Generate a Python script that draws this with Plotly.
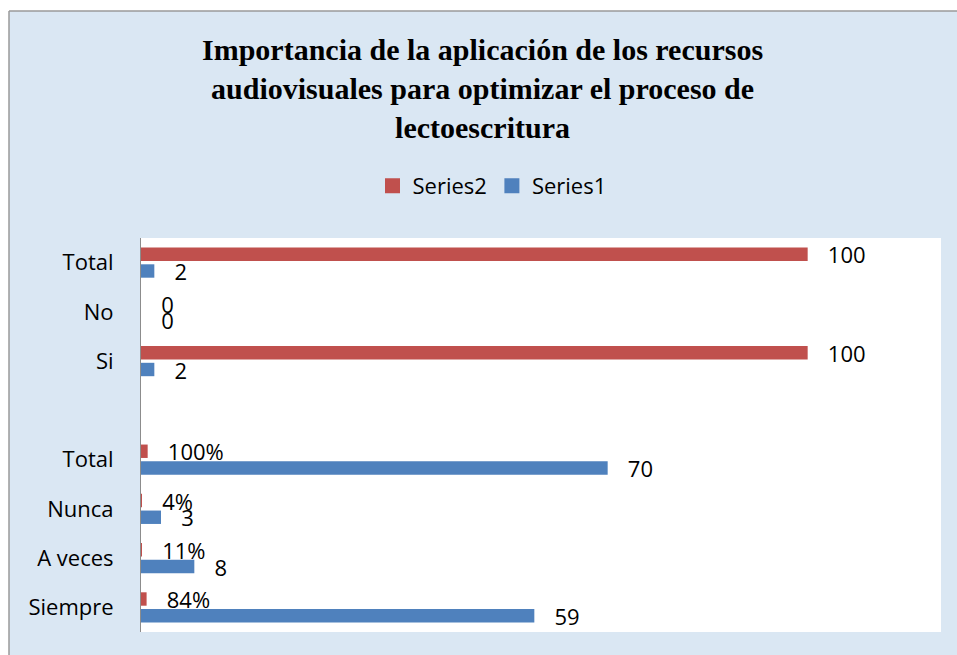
import plotly.graph_objects as go

categories = ["Siempre", "A veces", "Nunca", "Total", "", "Si", "No", "Total"]
series1 = [59, 8, 3, 70, None, 2, 0, 2]
series2 = [0.84, 0.11, 0.04, 1.00, None, 100, 0, 100]
series1_labels = ["59", "8", "3", "70", "", "2", "0", "2"]
series2_labels = ["84%", "11%", "4%", "100%", "", "100", "0", "100"]
series_names = ["Series1", "Series2"]
series_colors = ["#4f81bd", "#c0504d"]

title_text = ("Importancia de la aplicación de los recursos<br>"
              "audiovisuales para optimizar el proceso de<br>lectoescritura")

ypos = list(range(len(categories)))
FONT = "Open Sans, Lato, sans-serif"
label_font = dict(family=FONT, size=22, color="black")

W, H = 957, 655
L, T, PW, PH = 141, 238, 800, 394

def px_x(x):
    return (x - L) / PW

def px_y(y):
    return (T + PH - y) / PH

fig = go.Figure()
for name, vals, labels, color in [
    (series_names[0], series1, series1_labels, series_colors[0]),
    (series_names[1], series2, series2_labels, series_colors[1]),
]:
    fig.add_trace(go.Bar(
        name=name, y=ypos, x=vals, orientation="h",
        marker=dict(color=color, line=dict(width=0)),
        text=labels, texttemplate="   %{text}", textposition="outside",
        constraintext="none", textfont=label_font, cliponaxis=False,
        hoverinfo="skip", showlegend=False,
    ))

# legend entries with larger square keys, reversed order like the reference
for name, color in [(series_names[1], series_colors[1]), (series_names[0], series_colors[0])]:
    fig.add_trace(go.Scatter(
        name=name, x=[None], y=[None], mode="markers",
        marker=dict(symbol="square", size=15, color=color),
        showlegend=True, hoverinfo="skip",
    ))

border = dict(color="#9a9a9a", width=1.5)
fig.update_layout(
    width=W, height=H,
    margin=dict(l=L, r=W - L - PW, t=T, b=H - T - PH),
    paper_bgcolor="white",
    plot_bgcolor="white",
    barmode="group", bargap=0.32, bargroupgap=0.2,
    showlegend=True,
    legend=dict(orientation="h", x=px_x(492), xanchor="center", y=px_y(186), yanchor="middle",
                traceorder="normal", bgcolor="rgba(0,0,0,0)", itemwidth=30,
                font=dict(family=FONT, size=22, color="black")),
    xaxis=dict(range=[0, 120], visible=False, fixedrange=True),
    yaxis=dict(range=[-0.5, 7.5], tickmode="array", tickvals=ypos, ticktext=categories,
               showline=True, linecolor="#8c8c8c", linewidth=1, showgrid=False,
               zeroline=False, ticks="", ticklabelstandoff=22, fixedrange=True,
               tickfont=dict(family=FONT, size=22, color="black")),
    shapes=[
        dict(type="rect", xref="paper", yref="paper", x0=px_x(9), x1=px_x(1000), y0=px_y(720),
             y1=px_y(11), fillcolor="#dae7f3", line=dict(width=0), layer="below"),
        dict(type="line", xref="paper", yref="paper", x0=px_x(9), x1=px_x(1000),
             y0=px_y(11), y1=px_y(11), line=border, layer="below"),
        dict(type="line", xref="paper", yref="paper", x0=px_x(9), x1=px_x(9),
             y0=px_y(11), y1=px_y(720), line=border, layer="below"),
        dict(type="rect", xref="x domain", yref="y domain", x0=0, x1=1, y0=0, y1=1,
             fillcolor="white", line=dict(width=0), layer="below"),
    ],
    annotations=[dict(
        text="<b>" + title_text + "</b>", xref="paper", yref="paper",
        x=px_x(482), y=px_y(88), xanchor="center", yanchor="middle",
        showarrow=False, align="center",
        font=dict(family="Liberation Serif, Times New Roman, serif", size=30, color="black"),
    )],
)

fig.write_html(
    "out.html",
    config={"displayModeBar": False},
    post_script="document.body.style.margin='0';document.body.style.overflow='hidden';",
)
